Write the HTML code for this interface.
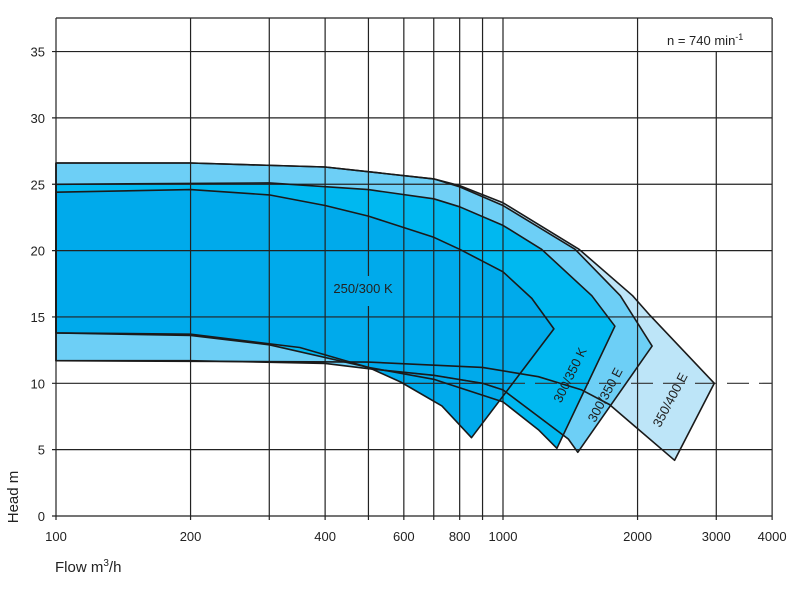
<!DOCTYPE html>
<html><head><meta charset="utf-8"><style>
body{margin:0;background:#fff;}
svg{display:block;font-family:"Liberation Sans",sans-serif;}
</style></head><body>
<svg id="chart" width="797" height="593" viewBox="0 0 797 593" xmlns="http://www.w3.org/2000/svg">
<g id="fills"></g><g id="grid"></g><g id="outlines"></g><g id="labels"></g>
</svg>
<script>
const xTicks=[100,200,300,400,500,600,700,800,900,1000,2000,3000,4000];
const xTickLabels=["100","200","","400","","600","","800","","1000","2000","3000","4000"];
const yTicks=[0,5,10,15,20,25,30,35];
// series: [flow m3/h, head m]
const s350_400E=[[100,26.6],[200,26.6],[400,26.3],[700,25.4],[800,24.9],[1000,23.6],[1480,20.1],[1950,16.6],[2135,15.1],[2970,10.0],[2420,4.2],[1730,8.4],[1500,9.5],[1200,10.5],[900,11.2],[500,11.6],[100,11.7]];
const s300_350E=[[100,26.6],[200,26.6],[400,26.3],[700,25.4],[800,24.8],[1000,23.4],[1450,20.1],[1830,16.6],[2155,12.8],[1470,4.8],[1400,5.8],[1200,7.5],[1000,9.5],[900,10.0],[700,10.6],[500,11.1],[400,11.5],[200,11.7],[100,11.7]];
const s300_350K=[[100,25.0],[300,25.1],[500,24.6],[700,23.9],[800,23.3],[1000,21.9],[1220,20.1],[1580,16.6],[1780,14.3],[1320,5.1],[1200,6.5],[1000,8.6],[700,10.3],[500,11.2],[300,12.9],[200,13.6],[100,13.8]];
const s250_300K=[[100,24.4],[200,24.6],[300,24.2],[400,23.4],[500,22.6],[700,21.0],[800,20.1],[1000,18.4],[1160,16.4],[1300,14.1],[850,5.9],[730,8.3],[590,10.1],[500,11.2],[351,12.7],[200,13.7],[100,13.8]];
const dashedCurve=[[500,11.1],[700,10.6],[900,10.0],[1000,9.5],[1200,7.5],[1400,5.8]];
const NS="http://www.w3.org/2000/svg";
const X=q=>56+447*Math.log10(q/100);
const Y=h=>516-13.27*h;
function mk(parent,tag,attrs){const e=document.createElementNS(NS,tag);for(const k in attrs)e.setAttribute(k,attrs[k]);document.getElementById(parent).appendChild(e);return e;}
function pts(a){return a.map(p=>X(p[0]).toFixed(1)+","+Y(p[1]).toFixed(1)).join(" ");}
const series=[[s350_400E,"#bde5f8","region-350-400-e"],[s300_350E,"#6dcff6","region-300-350-e"],[s300_350K,"#00b8f0","region-300-350-k"],[s250_300K,"#00aaeb","region-250-300-k"]];
series.forEach(s=>{
 const e=mk("fills","polygon",{points:pts(s[0]),fill:s[1],stroke:"none"});
 
 
});
xTicks.forEach((q,i)=>{
 let y1=18; if(q===3000) y1=Y(35);
 const l=mk("grid","line",{x1:X(q),x2:X(q),y1:y1,y2:520,stroke:"#222","stroke-width":1.2});
 
 
 if(xTickLabels[i]){const t=mk("grid","text",{x:X(q),y:541,"text-anchor":"middle","font-size":13,fill:"#222"});t.textContent=xTickLabels[i];
 
 }
});
yTicks.forEach(h=>{
 const dashed=h===10;
 const l=mk("grid","line",{x1:52,x2:dashed?503:772,y1:Y(h),y2:Y(h),stroke:"#222","stroke-width":1.2});
 
 
 if(dashed){const d=mk("grid","line",{x1:503,x2:772,y1:Y(h),y2:Y(h),stroke:"#333","stroke-width":1.2,"stroke-dasharray":"22,10"});
 
 }
 const t=mk("grid","text",{x:45,y:Y(h)+5,"text-anchor":"end","font-size":13,fill:"#222"});t.textContent=String(h);
 
 
});
const topBorder=mk("grid","line",{x1:56,x2:772,y1:18,y2:18,stroke:"#222","stroke-width":1.2});


series.forEach(s=>{
 const e=mk("outlines","polygon",{points:pts(s[0]),fill:"none",stroke:"#1a1a1a","stroke-width":1.6,"stroke-linejoin":"round"});
 
 
});
const dc=mk("outlines","polyline",{points:pts(dashedCurve),fill:"none",stroke:"#1a1a1a","stroke-width":1.2,"stroke-dasharray":"10,5"});


function lab(txt,x,y,rot,name){const t=mk("labels","text",{x:x,y:y,"text-anchor":"middle","font-size":13,fill:"#222",transform:rot?`rotate(${rot} ${x} ${y})`:""});t.textContent=txt;
 
 return t;}
const bg=mk("labels","rect",{x:328,y:276,width:72,height:30,fill:"#00aaeb"});


lab("250/300 K",363,293,0,"label-250-300-k");
lab("300/350 K",574,377,-64,"label-300-350-k");
lab("300/350 E",609,397,-62,"label-300-350-e");
lab("350/400 E",674,402,-62,"label-350-400-e");
const speedNote=mk("labels","text",{x:667,y:45,"font-size":13,fill:"#222"});


speedNote.innerHTML='n = 740 min<tspan dy="-5" font-size="9">-1</tspan>';
const hy=mk("labels","text",{x:18,y:497,"text-anchor":"middle","font-size":15,fill:"#222",transform:"rotate(-90 18 497)"});hy.textContent="Head m";


const fx=mk("labels","text",{x:55,y:572,"font-size":15,fill:"#222"});


fx.innerHTML='Flow m<tspan dy="-6" font-size="10">3</tspan><tspan dy="6">/h</tspan>';
</script>
</body></html>
